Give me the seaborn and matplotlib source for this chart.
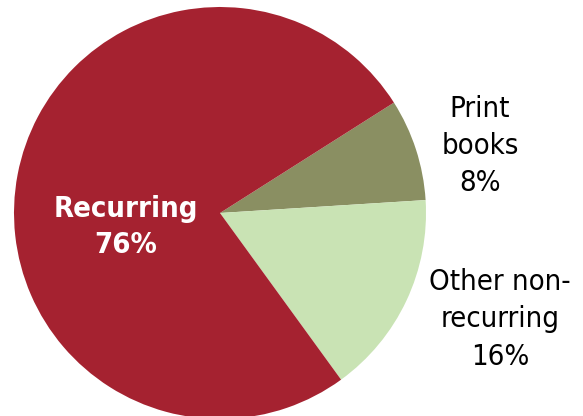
import matplotlib
matplotlib.use("Agg")
import matplotlib.pyplot as plt
import seaborn as sns

# Share of spending by category
categories = ["Print books", "Other non-recurring", "Recurring"]
shares = [8, 16, 76]
label_texts = ["Print\nbooks", "Other non-\nrecurring", "Recurring"]
slice_colors = ["#8A8F62", "#C9E3B4", "#A52230"]

sns.set_theme(style="white")
plt.rcParams["font.family"] = ["DejaVu Sans"]

fig = plt.figure(figsize=(5.83, 4.16), dpi=100)
fig.patch.set_facecolor("white")
# square axes holding a unit-radius pie
ax = fig.add_axes([14 / 583, -3 / 416, 412 / 583, 412 / 416])

wedges, _ = ax.pie(
    shares,
    colors=sns.color_palette(slice_colors),
    startangle=32.4,
    counterclock=False,
    radius=1.0,
    wedgeprops=dict(linewidth=0, antialiased=True),
)
ax.set_xlim(-1, 1)
ax.set_ylim(-1, 1)
ax.set_aspect("equal")
ax.axis("off")

# label placement (data coords of the unit pie)
label_pos = [(1.262, 0.325), (1.360, -0.516), (-0.456, -0.068)]
label_colors = ["black", "black", "white"]
label_weights = ["normal", "normal", "bold"]
label_spacing = [1.42, 1.42, 1.33]

for txt, val, (x, y), c, w, ls in zip(label_texts, shares, label_pos,
                                       label_colors, label_weights,
                                       label_spacing):
    ax.text(x, y, f"{txt}\n{val}%", ha="center", va="center",
            fontsize=21, fontstretch="condensed", linespacing=ls,
            color=c, fontweight=w, clip_on=False)

fig.savefig("out.png", dpi=100, facecolor="white")
